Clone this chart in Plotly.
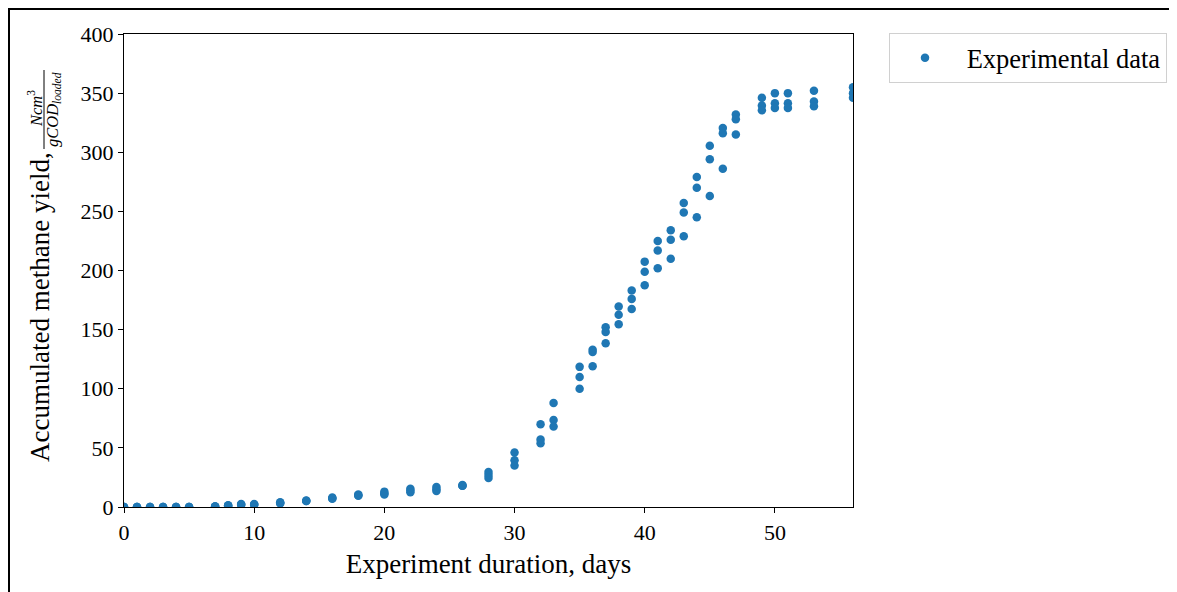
import plotly.graph_objects as go

# ---- data ----
days = [0, 1, 2, 3, 4, 5, 7, 8, 9, 10, 12, 14, 16, 18, 20, 22, 24, 26, 28, 30,
        32, 33, 35, 36, 37, 38, 39, 40, 41, 42, 43, 44, 45, 46, 47, 49, 50, 51, 53, 56]
rep1 = [0, 0, 0, 0, 0, 0, 0.5, 1.5, 2.5, 2.5, 4, 5.5, 8, 10.5, 13, 15.5, 17, 18.5, 29.5, 46,
        70, 88, 118.5, 133, 152, 169.5, 183, 207.5, 225, 234, 257, 279, 305.5, 320.5, 332,
        346, 350, 350, 352, 355]
rep2 = [0, 0, 0, 0, 0, 0, 0.5, 1, 2, 2, 3.5, 5, 7.5, 10, 11.5, 14, 15, 18, 27, 39.5,
        57, 73.5, 110, 131, 148, 162.5, 176, 199, 217, 226, 249, 270, 294, 316, 328,
        339.5, 341.5, 341.5, 343, 350]
rep3 = [0, 0, 0, 0, 0, 0, 0.5, 1, 2, 2, 3, 5, 7, 9.5, 10.5, 12.5, 13.5, 18, 24.5, 35,
        54, 68, 100, 119, 138.5, 154.5, 167.5, 187.5, 202, 210, 229, 245, 263, 286, 315,
        335.5, 337.5, 337.5, 339, 346]

x_ticks = [0, 10, 20, 30, 40, 50]
y_ticks = [0, 50, 100, 150, 200, 250, 300, 350, 400]

x_all = days * 3
y_all = rep1 + rep2 + rep3

# the page body adds an 8 px margin, so work in screen pixels and shift
OFF = 8
W, H = 1177 - OFF, 592 - OFF
L, R, T, B = 124 - OFF, 853 - OFF, 34 - OFF, 507 - OFF
FONT = "Liberation Serif"


def px2x(px):
    return (px - OFF - L) / (R - L)


def py2y(py):
    return (B - (py - OFF)) / (B - T)


fig = go.Figure()
fig.add_trace(go.Scatter(
    x=x_all, y=y_all, mode="markers", name="\u00a0Experimental data",
    marker=dict(color="#1f77b4", size=8.5, line=dict(width=0)),
    cliponaxis=True,
))

axis_common = dict(
    showline=True, linecolor="black", linewidth=1.2, mirror=True,
    ticks="outside", ticklen=5, tickwidth=1.2, tickcolor="black",
    showgrid=False, zeroline=False,
    tickfont=dict(family=FONT, size=22, color="black"),
)

fig.update_layout(
    width=W, height=H,
    margin=dict(l=L, r=W - R, t=T, b=H - B, pad=0, autoexpand=False),
    paper_bgcolor="white", plot_bgcolor="white",
    font=dict(family=FONT, size=22, color="black"),
    xaxis=dict(range=[0, 56], tickvals=x_ticks,
               title=dict(text="Experiment duration, days",
                          font=dict(family=FONT, size=27), standoff=10),
               **axis_common),
    yaxis=dict(range=[0, 400], tickvals=y_ticks, **axis_common),
    showlegend=True,
    legend=dict(x=px2x(889), y=py2y(33), xanchor="left", yanchor="top",
                bordercolor="#d0d0d0", borderwidth=1, bgcolor="white",
                font=dict(family=FONT, size=26.5), itemwidth=60,
                tracegroupgap=0),
)

# y-axis label with a stacked fraction
fig.add_annotation(text="Accumulated methane yield,", textangle=-90,
                   xref="paper", yref="paper", x=px2x(40), y=py2y(150),
                   xanchor="center", yanchor="top", showarrow=False,
                   font=dict(family=FONT, size=27, color="black"))
fig.add_annotation(text="<i>Ncm</i><sup>3</sup>", textangle=-90,
                   xref="paper", yref="paper", x=px2x(35), y=py2y(109),
                   xanchor="center", yanchor="middle", showarrow=False,
                   font=dict(family=FONT, size=16.5, color="black"))
fig.add_annotation(text="<i>gCOD</i><sub><i>loaded</i></sub>", textangle=-90,
                   xref="paper", yref="paper", x=px2x(53), y=py2y(110),
                   xanchor="center", yanchor="middle", showarrow=False,
                   font=dict(family=FONT, size=16.5, color="black"))
fig.add_shape(type="line", xref="paper", yref="paper",
              x0=px2x(44), x1=px2x(44), y0=py2y(70), y1=py2y(149),
              line=dict(color="black", width=1))

# outer frame of the figure
fig.add_shape(type="rect", xref="paper", yref="paper",
              x0=px2x(9), x1=px2x(1200), y0=py2y(620), y1=py2y(9),
              line=dict(color="black", width=2), fillcolor="rgba(0,0,0,0)")

fig.write_html("out.html")
